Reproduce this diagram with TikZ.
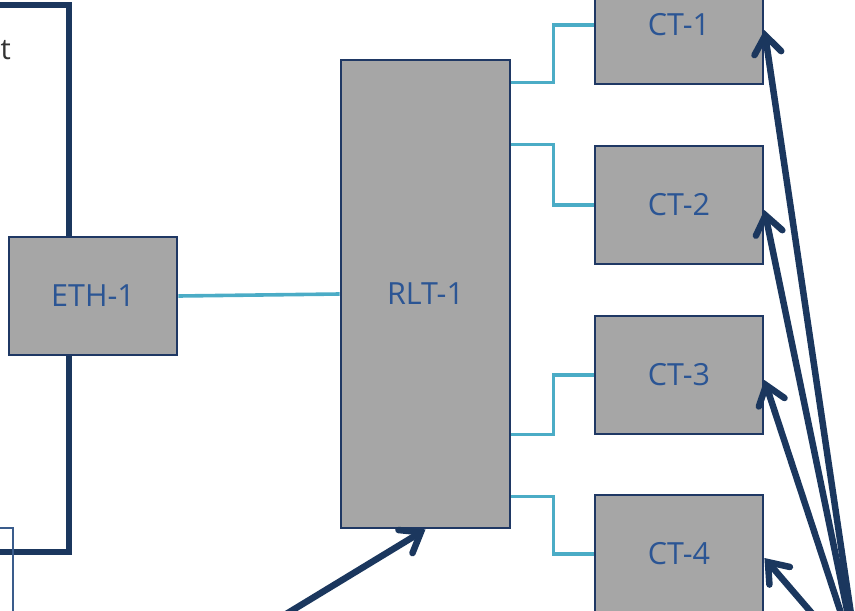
\documentclass[tikz,border=0pt]{standalone}
\usepackage{fontspec}
\setmainfont{Open Sans}
\usetikzlibrary{arrows.meta,calc}
\definecolor{boxfill}{HTML}{A6A6A6}
\definecolor{boxedge}{HTML}{1F3864}
\definecolor{boxtext}{HTML}{2B5594}
\definecolor{linkcyan}{HTML}{4BACC6}
\definecolor{darkarrow}{HTML}{1B375E}
\definecolor{thinedge}{HTML}{3A5C8C}
\tikzset{
  unitbox/.style={draw=boxedge, line width=2.8pt, fill=boxfill, text=boxtext,
    font=\fontsize{30.5}{36}\selectfont, inner sep=0pt},
  ctbox/.style={unitbox, minimum width=168pt, minimum height=118pt},
  cyanlink/.style={draw=linkcyan, line width=3.6pt},
  bracketline/.style={draw=darkarrow, line width=6.5pt},
  thinline/.style={draw=thinedge, line width=1.5pt},
  bigarrow/.style={draw=darkarrow, line width=6.5pt, line cap=round,
    -{Straight Barb[length=18pt, width=27pt, line cap=round]}},
}
\begin{document}
\begin{tikzpicture}[x=1pt, y=-1pt]
\useasboundingbox (0,0) rectangle (855,611);
\clip (0,0) rectangle (855,611);

% left bracket and partial text
\draw[bracketline] (-10,5) -- (69,5) -- (69,552) -- (-10,552);
\node[anchor=east, font=\fontsize{29}{32}\selectfont, text=black!80, inner sep=0pt] (tfrag) at (11,50) {t};
\draw[thinline] (-10,528) -- (13,528) -- (13,625);

% nodes
\node[unitbox, minimum width=168pt, minimum height=118pt] (ETH1) at (93,296) {ETH-1};
\node[unitbox, minimum width=169pt, minimum height=468pt] (RLT1) at (425.5,294) {RLT-1};
\node[ctbox] (CT1) at (679,25) {CT-1};
\node[ctbox] (CT2) at (679,205) {CT-2};
\node[ctbox] (CT3) at (679,375) {CT-3};
\node[ctbox] (CT4) at (679,554) {CT-4};

% cyan links
\draw[cyanlink] (ETH1.east) -- (RLT1.west);
\draw[cyanlink] ([yshift=-24pt]RLT1.north east) -- ++(42,0) |- (CT1.west);
\draw[cyanlink] ([yshift=-86pt]RLT1.north east) -- ++(42,0) |- (CT2.west);
\draw[cyanlink] ([yshift=95pt]RLT1.south east) -- ++(42,0) |- (CT3.west);
\draw[cyanlink] ([yshift=33pt]RLT1.south east) -- ++(42,0) |- (CT4.west);

% arrows from outside
\coordinate (srcR) at (859,668);
\coordinate (srcL) at (250,636);
\draw[bigarrow] (srcR) -- ([yshift=-5pt]CT1.east);
\draw[bigarrow] (srcR) -- ([yshift=-5pt]CT2.east);
\draw[bigarrow] (srcR) -- ([yshift=-5pt]CT3.east);
\draw[bigarrow] (srcR) -- ([yshift=-4pt]CT4.east);
\draw[bigarrow] (srcL) -- (RLT1.south);
\end{tikzpicture}
\end{document}
